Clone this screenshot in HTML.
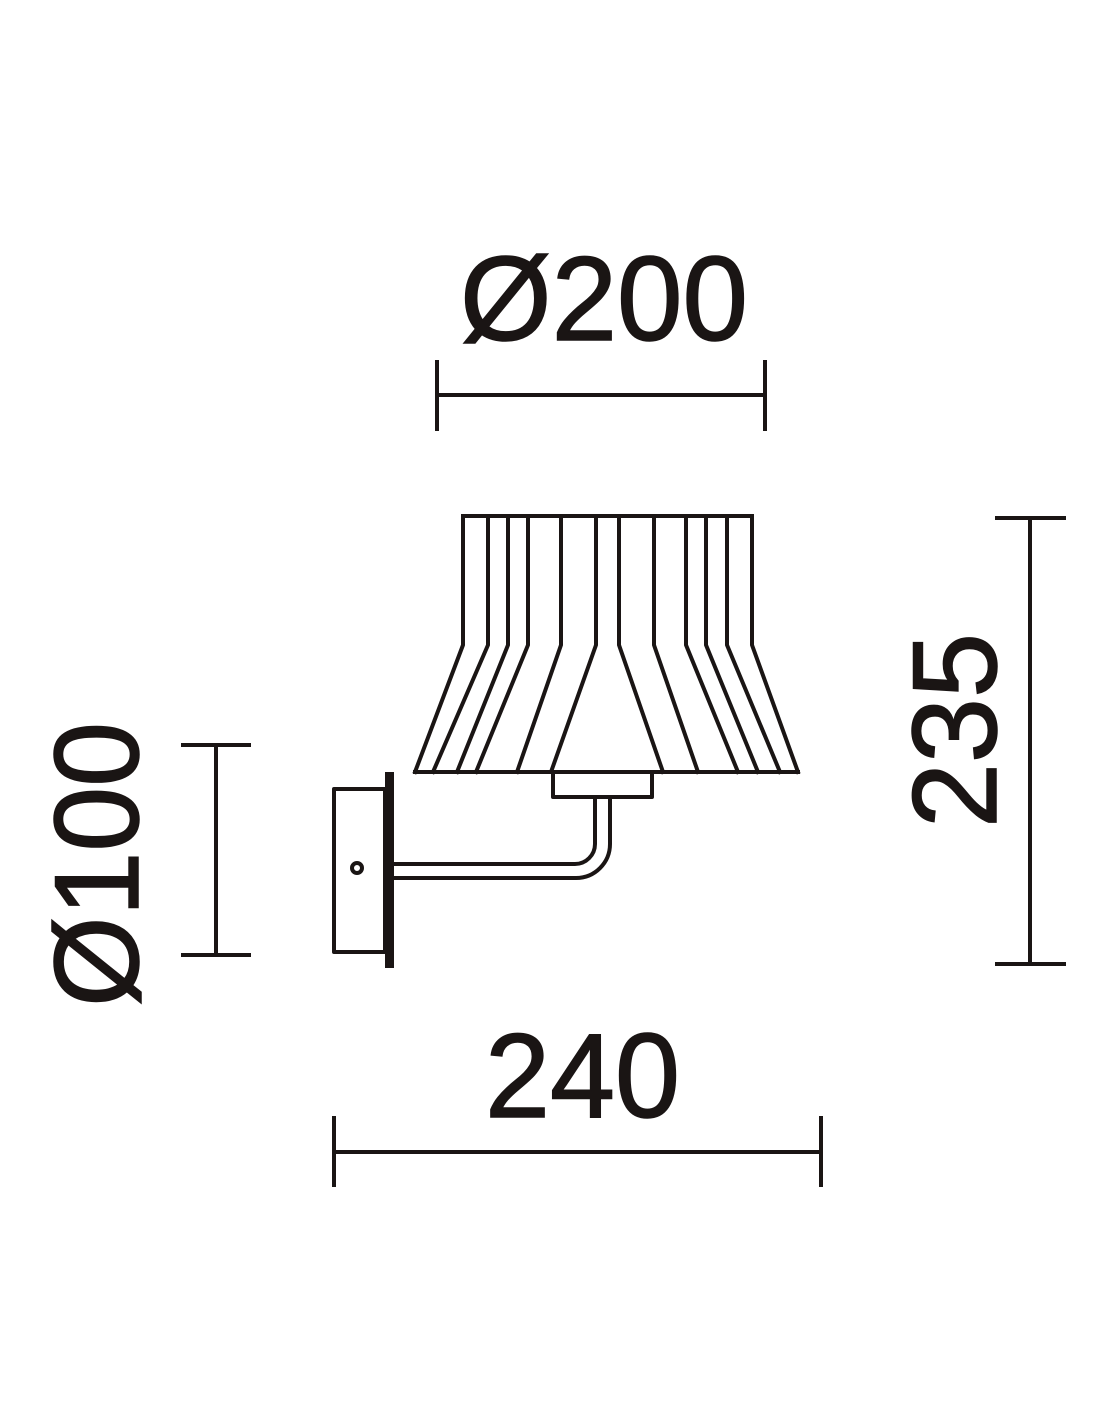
<!DOCTYPE html>
<html><head><meta charset="utf-8"><style>html,body{margin:0;padding:0;background:#fff}svg{display:block}</style></head>
<body>
<svg width="1100" height="1422" viewBox="0 0 1100 1422" xmlns="http://www.w3.org/2000/svg">
<g stroke="#1a1514" stroke-width="4" fill="none" stroke-linejoin="round" stroke-linecap="square">
<line x1="463" y1="516" x2="752" y2="516"/>
<line x1="415" y1="772" x2="798" y2="772"/>
<polyline points="463,516 463,645 415,772"/>
<polyline points="488,516 488,645 433,772"/>
<polyline points="508,516 508,645 457,772"/>
<polyline points="528,516 528,645 476,772"/>
<polyline points="561,516 561,645 517,772"/>
<polyline points="596,516 596,645 551,772"/>
<polyline points="619,516 619,645 663,772"/>
<polyline points="654,516 654,645 698,772"/>
<polyline points="686,516 686,645 738,772"/>
<polyline points="706,516 706,645 758,772"/>
<polyline points="727,516 727,645 780,772"/>
<polyline points="752,516 752,645 798,772"/>
<rect x="553" y="772" width="99" height="25"/>
<path d="M395 864 H575 A20 20 0 0 0 595 844 V797"/>
<path d="M395 878 H576 A34 34 0 0 0 610 844 V797"/>
<rect x="334" y="789" width="51" height="163"/>
<circle cx="357" cy="868" r="5"/>
</g>
<rect x="385" y="772" width="9" height="196" fill="#1a1514"/>
<g stroke="#1a1514" stroke-width="4" fill="none">
<line x1="437" y1="395" x2="765" y2="395"/>
<line x1="437" y1="360" x2="437" y2="431"/>
<line x1="765" y1="360" x2="765" y2="431"/>
<line x1="334" y1="1152" x2="821" y2="1152"/>
<line x1="334" y1="1116" x2="334" y2="1187"/>
<line x1="821" y1="1116" x2="821" y2="1187"/>
<line x1="216" y1="745" x2="216" y2="955"/>
<line x1="181" y1="745" x2="251" y2="745"/>
<line x1="181" y1="955" x2="251" y2="955"/>
<line x1="1030" y1="518" x2="1030" y2="964"/>
<line x1="995" y1="518" x2="1066" y2="518"/>
<line x1="995" y1="964" x2="1066" y2="964"/>
</g>
<g fill="#1a1514" stroke="#1a1514" stroke-width="1.5" font-family="'Liberation Sans', sans-serif" font-size="120">
<text x="460" y="340" textLength="288" lengthAdjust="spacingAndGlyphs">Ø200</text>
<text x="485" y="1117" textLength="195" lengthAdjust="spacingAndGlyphs">240</text>
<text transform="translate(138,1007) rotate(-90)" textLength="285" lengthAdjust="spacingAndGlyphs">Ø100</text>
<text transform="translate(996,828) rotate(-90)" textLength="195" lengthAdjust="spacingAndGlyphs">235</text>
</g>
</svg>
</body></html>
